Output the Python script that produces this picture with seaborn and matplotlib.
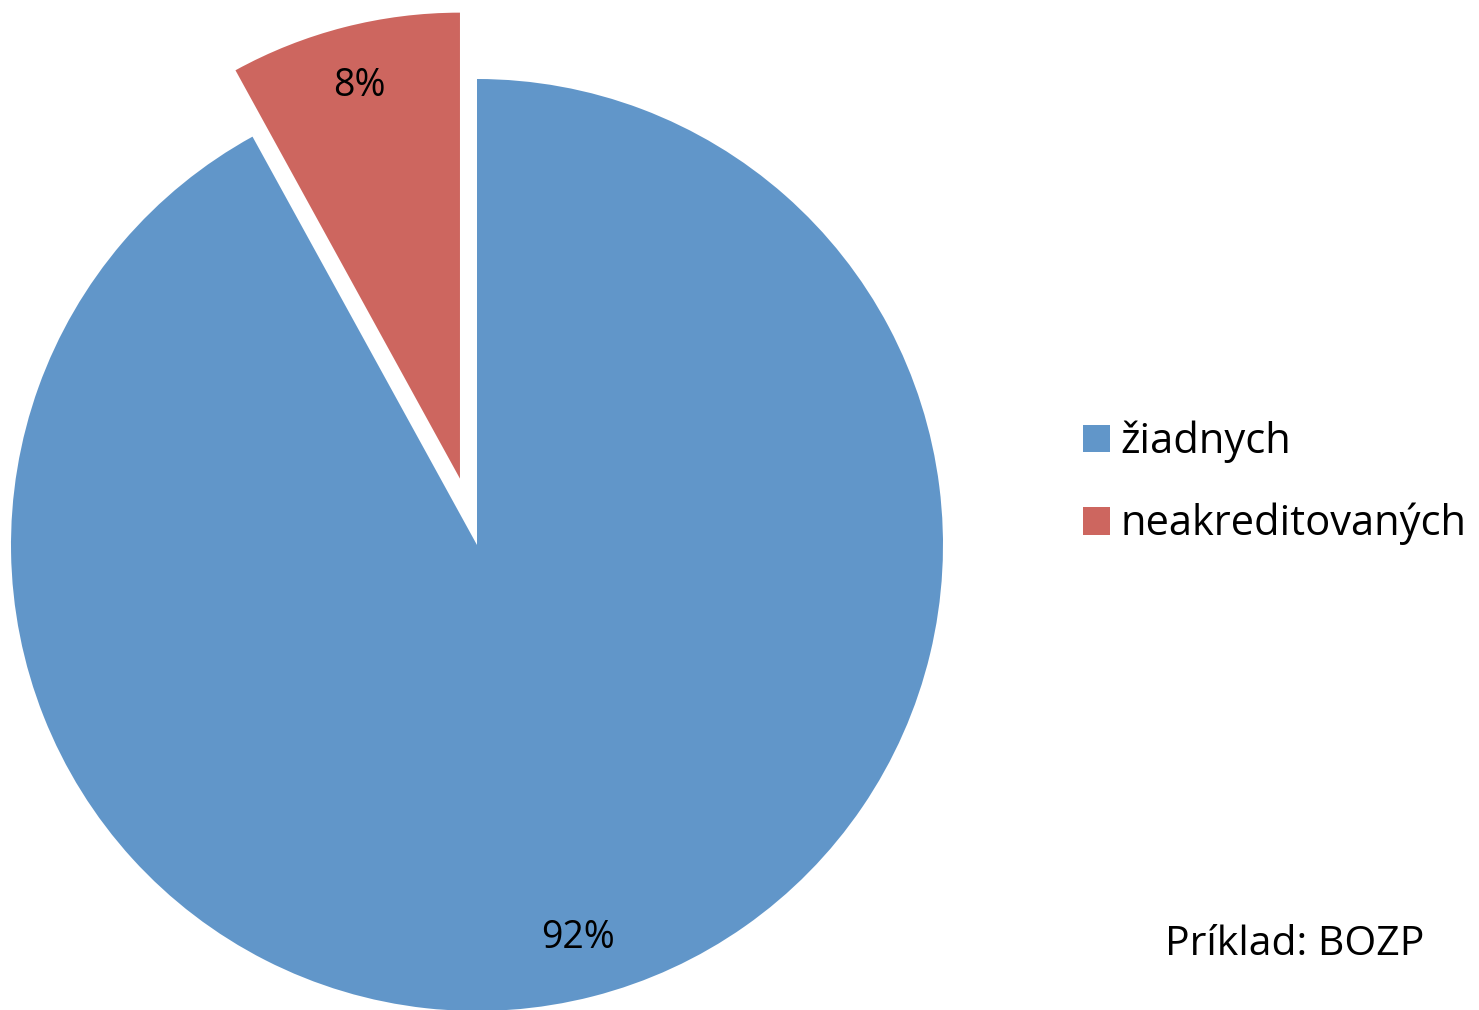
import seaborn as sns
import matplotlib.pyplot as plt

categories = ['žiadnych', 'neakreditovaných']
values = [92, 8]
colors = ['#6196C9', '#CD665F']
note = 'Príklad: BOZP'

sns.set_theme(style="white")
plt.rcParams['font.family'] = ['Open Sans', 'DejaVu Sans']
plt.rcParams['text.color'] = 'black'

W, H = 1479, 1010
R = 466
fig = plt.figure(figsize=(W / 100, H / 100), dpi=100)
ax = fig.add_axes([0, 0, 1, 1])

wedges, texts, autotexts = ax.pie(
    values, explode=[0, 0.147 * R], startangle=90, counterclock=False,
    colors=colors, center=(477, H - 545), radius=R,
    autopct=lambda p: f'{p:.0f}%', pctdistance=0.87,
    textprops=dict(fontsize=27, color='black'),
    wedgeprops=dict(linewidth=0), frame=False)

ax.set_xlim(0, W)
ax.set_ylim(0, H)
ax.set_aspect('auto')
ax.axis('off')

leg = ax.legend(wedges, categories, loc='center left',
                bbox_to_anchor=(1083 / W, 1 - 483 / H), frameon=False,
                fontsize=30, handlelength=0.65, handleheight=0.65,
                handletextpad=0.25, labelspacing=0.95, borderpad=0, borderaxespad=0)
for t in leg.get_texts():
    t.set_color('black')

fig.text(1165 / W, 1 - 945 / H, note, fontsize=29.5, va='center', ha='left', color='black')

fig.savefig('out.png', dpi=100)
